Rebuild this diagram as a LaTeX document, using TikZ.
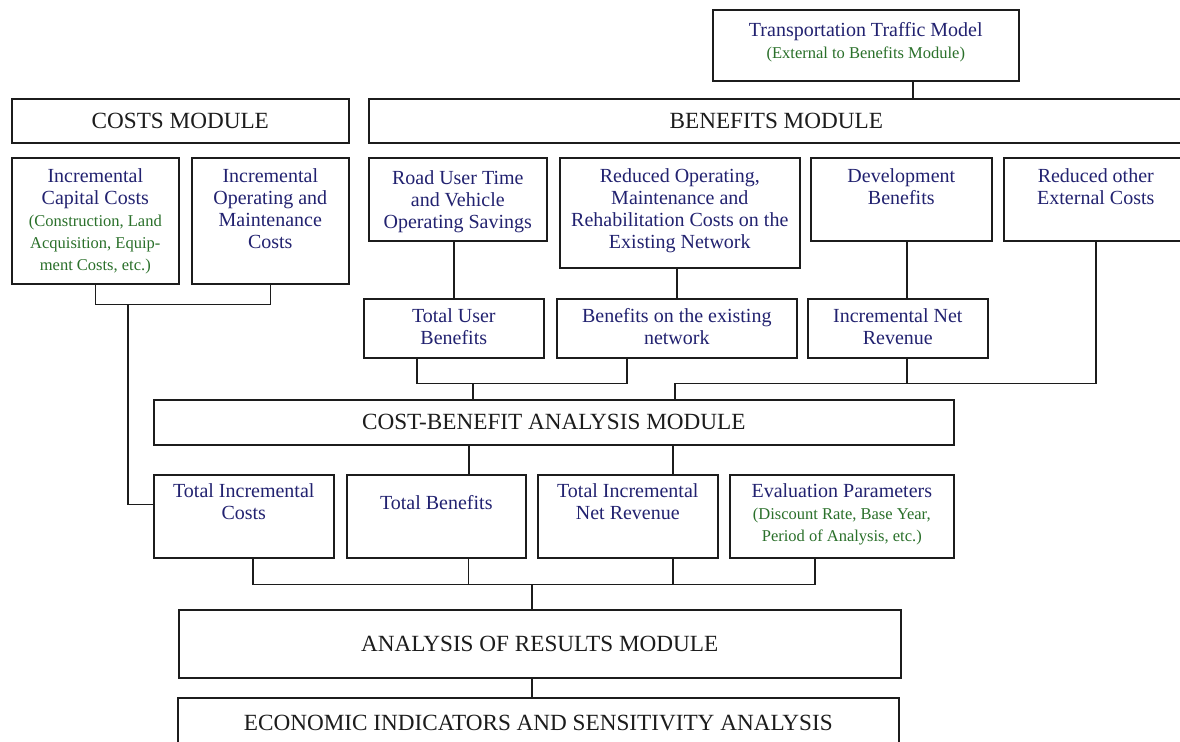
\documentclass[tikz,border=0pt]{standalone}
\usepackage{fontspec}
\setmainfont{Liberation Serif}
\usetikzlibrary{positioning,calc}
\definecolor{navy}{RGB}{34,34,112}
\definecolor{subgreen}{RGB}{42,112,42}
\definecolor{ink}{RGB}{28,28,28}
\newcommand{\subnote}[1]{{\color{subgreen}\fontsize{8.25}{11}\selectfont #1}}

\begin{document}
\begin{tikzpicture}[
    x=0.5pt, y=-0.5pt,
    block/.style args={#1/#2}{
        draw=ink, line width=0.8pt, anchor=north west, inner sep=0pt,
        minimum width=#1*0.5pt, minimum height=#2*0.5pt
    },
    head/.style={font=\fontsize{11.6}{13}\selectfont, text=ink},
    txt/.style={align=center, inner sep=0pt, text=navy,
        font=\fontsize{10}{11}\selectfont},
    link/.style={draw=ink, line width=0.8pt}
    ]
    \useasboundingbox (0,0) rectangle (1180,741);
    \fill[white] (0,0) rectangle (1180,741);
    \clip (0,0) rectangle (1180,741);

    % top row
    \node[block=306/71] (ttm) at (712,9) {};
    \node[txt, below=6.5pt of ttm.north] (ttmt) {Transportation Traffic Model\\\subnote{(External to Benefits Module)}};
    \node[block=337/44, head] (costs) at (11,98) {COSTS MODULE};
    \node[block=815/44, head] (benefits) at (368,98) {BENEFITS MODULE};

    % module inputs
    \node[block=167/126] (capcost) at (11,157) {};
    \node[txt, below=5.5pt of capcost.north] (capcostt) {Incremental\\Capital Costs\\\subnote{(Construction, Land}\\\subnote{Acquisition, Equip-}\\\subnote{ment Costs, etc.)}};
    \node[block=157/126] (opmcost) at (191,157) {};
    \node[txt, below=5.5pt of opmcost.north] (opmcostt) {Incremental\\Operating and\\Maintenance\\Costs};
    \node[block=178/83] (roadusr) at (368,157) {};
    \node[txt, below=6.5pt of roadusr.north] (roadusrt) {Road User Time\\and Vehicle\\Operating Savings};
    \node[block=240/110] (redop) at (559,157) {};
    \node[txt, below=5.5pt of redop.north] (redopt) {Reduced Operating,\\Maintenance and\\Rehabilitation Costs on the\\Existing Network};
    \node[block=181/83] (devben) at (810,157) {};
    \node[txt, below=5.5pt of devben.north] (devbent) {Development\\Benefits};
    \node[block=184/83] (redext) at (1003,157) {};
    \node[txt, below=5.5pt of redext.north] (redextt) {Reduced other\\External Costs};

    \node[block=180/59] (usrben) at (363,298) {};
    \node[txt, below=5pt of usrben.north] (usrbent) {Total User\\Benefits};
    \node[block=240/59] (netben) at (556,298) {};
    \node[txt, below=5pt of netben.north] (netbent) {Benefits on the existing\\network};
    \node[block=180/59] (netrev) at (807,298) {};
    \node[txt, below=5pt of netrev.north] (netrevt) {Incremental Net\\Revenue};

    \node[block=800/45, head] (cba) at (153,399) {COST-BENEFIT ANALYSIS MODULE};

    % outputs of cba
    \node[block=180/83] (totcost) at (153,474) {};
    \node[txt, below=4.5pt of totcost.north] (totcostt) {Total Incremental\\Costs};
    \node[block=179/83] (totben) at (346,474) {};
    \node[txt, below=10.5pt of totben.north] (totbent) {Total Benefits};
    \node[block=180/83] (totrev) at (537,474) {};
    \node[txt, below=4.5pt of totrev.north] (totrevt) {Total Incremental\\Net Revenue};
    \node[block=224/83] (evalpar) at (729,474) {};
    \node[txt, below=4.5pt of evalpar.north] (evalpart) {Evaluation Parameters\\\subnote{(Discount Rate, Base Year,}\\\subnote{Period of Analysis, etc.)}};

    \node[block=722/68, head] (results) at (178,609) {ANALYSIS OF RESULTS MODULE};
    \node[block=721/51, head] (econ) at (177,697) {ECONOMIC INDICATORS AND SENSITIVITY ANALYSIS};

    % connectors
    \draw[link] ([xshift=23.5pt]ttm.south) -- ([xshift=23.5pt]ttm.south |- benefits.north);
    \draw[link] (capcost.south) -- ++(0,20) coordinate (costjoin) -| (opmcost.south);
    \draw[link] ([xshift=16.25pt]costjoin) |- ([yshift=6pt]totcost.west);

    \draw[link] (usrben.north |- roadusr.south) -- (usrben.north);
    \draw[link] (netben.north |- redop.south) -- (netben.north);
    \draw[link] ([xshift=4.5pt]netrev.north |- devben.south) -- ([xshift=4.5pt]netrev.north);

    \draw[link] ([xshift=-18.5pt]usrben.south) -- ++(0,25) coordinate (benjoin) -| ([xshift=-25pt]netben.south);
    \draw[link] ([xshift=-40.5pt]cba.north) -- ([xshift=-40.5pt]cba.north |- benjoin);
    \draw[link] (redext.south) -- ++(0,142) coordinate (extjoin) -| ([xshift=60.5pt]cba.north);
    \draw[link] ([xshift=4.5pt]netrev.south) -- ([xshift=4.5pt]netrev.south |- extjoin);

    \draw[link] ([xshift=16.25pt]totben.north |- cba.south) -- ([xshift=16.25pt]totben.north);
    \draw[link] ([xshift=22.5pt]totrev.north |- cba.south) -- ([xshift=22.5pt]totrev.north);

    \draw[link] ([xshift=4.5pt]totcost.south) -- ++(0,26) coordinate (resjoin) -| ([xshift=-13.5pt]evalpar.south);
    \draw[link] ([xshift=16pt]totben.south) -- ([xshift=16pt]totben.south |- resjoin);
    \draw[link] ([xshift=22.5pt]totrev.south) -- ([xshift=22.5pt]totrev.south |- resjoin);
    \draw[link] ([xshift=-4pt]results.north |- resjoin) -- ([xshift=-4pt]results.north);
    \draw[link] ([xshift=-4pt]results.south) -- ([xshift=-4pt]results.south |- econ.north);
\end{tikzpicture}
\end{document}
